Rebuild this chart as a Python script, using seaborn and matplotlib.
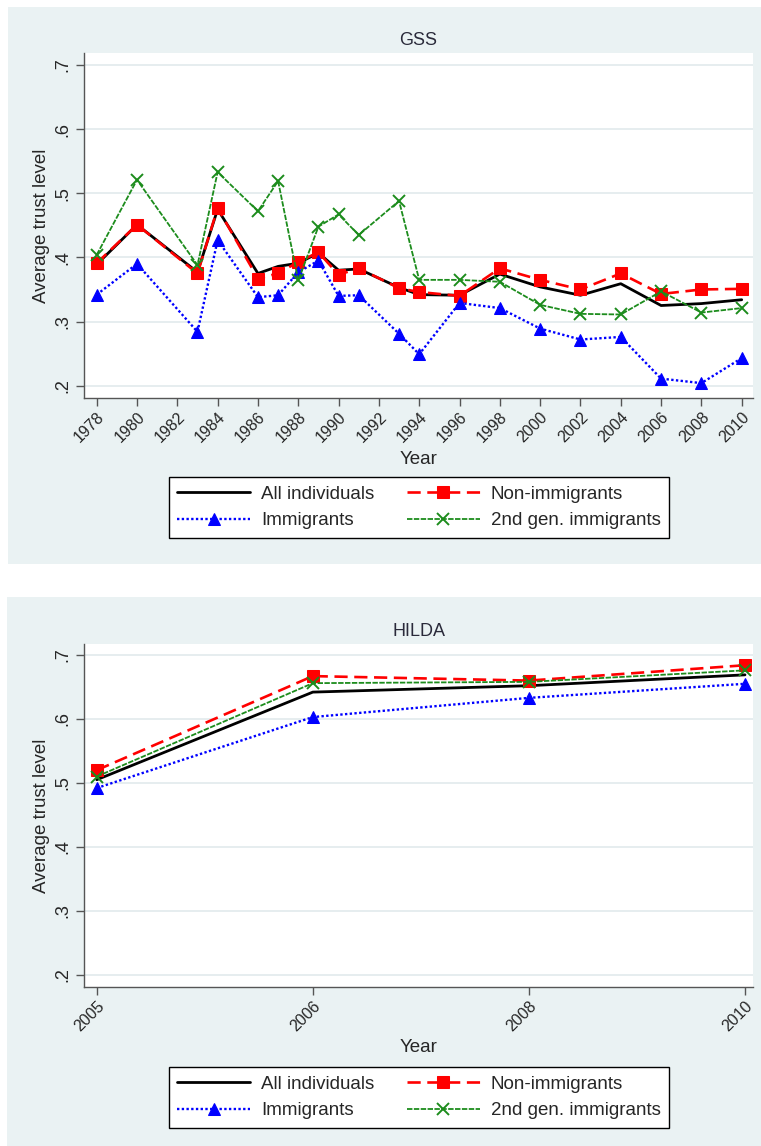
import numpy as np
import pandas as pd
import seaborn as sns
import matplotlib.pyplot as plt
from matplotlib.patches import Rectangle
from matplotlib.ticker import FuncFormatter

# GSS panel
gss_years = [1978, 1980, 1983, 1984, 1986, 1987, 1988, 1989, 1990, 1991,
             1993, 1994, 1996, 1998, 2000, 2002, 2004, 2006, 2008, 2010]
gss_all = [0.389, 0.451, 0.377, 0.475, 0.375, 0.386, 0.391, 0.407, 0.380, 0.382,
           0.353, 0.342, 0.341, 0.374, 0.354, 0.341, 0.359, 0.325, 0.328, 0.334]
gss_non = [0.391, 0.451, 0.375, 0.477, 0.367, 0.375, 0.393, 0.408, 0.373, 0.383,
           0.352, 0.346, 0.340, 0.383, 0.365, 0.350, 0.375, 0.343, 0.350, 0.351]
gss_imm = [0.342, 0.390, 0.284, 0.427, 0.338, 0.341, 0.377, 0.395, 0.340, 0.341,
           0.281, 0.249, 0.329, 0.321, 0.289, 0.272, 0.276, 0.211, 0.204, 0.243]
gss_2nd = [0.404, 0.521, 0.388, 0.533, 0.472, 0.519, 0.364, 0.448, 0.467, 0.435,
           0.488, 0.365, 0.365, 0.362, 0.326, 0.312, 0.311, 0.347, 0.314, 0.321]
gss_ticks = list(range(1978, 2011, 2))

# HILDA panel
hilda_years = ["2005", "2006", "2008", "2010"]
hilda_all = [0.505, 0.642, 0.652, 0.669]
hilda_non = [0.520, 0.667, 0.660, 0.684]
hilda_imm = [0.492, 0.603, 0.633, 0.655]
hilda_2nd = [0.510, 0.656, 0.658, 0.676]

groups = ["All individuals", "Non-immigrants", "Immigrants", "2nd gen. immigrants"]

styles = {
    "All individuals": dict(color="black", linestyle="-", linewidth=2.0, marker=None),
    "Non-immigrants": dict(color="#ff0000", linestyle=(0, (5, 2.5)), linewidth=1.9,
                           marker="s", markersize=8, markeredgecolor="#ff0000"),
    "Immigrants": dict(color="#0000ff", linestyle=(0, (1, 1)), linewidth=1.7,
                       marker="^", markersize=8.5, markeredgecolor="#0000ff"),
    "2nd gen. immigrants": dict(color="#1c8c1c", linestyle=(0, (3, 0.8)), linewidth=1.3,
                                marker="x", markersize=8.5, markeredgewidth=1.4,
                                markeredgecolor="#1c8c1c"),
}

sns.set_style("ticks")
plt.rcParams["font.family"] = ["Liberation Sans", "DejaVu Sans"]

W, H = 761, 1146
fig = plt.figure(figsize=(W / 100, H / 100), dpi=100)
fig.patch.set_facecolor("white")

bg = "#eaf2f3"
fig.patches.append(Rectangle((8 / W, 1 - 564 / H), 753 / W, 557 / H,
                             transform=fig.transFigure, facecolor=bg, edgecolor="none", zorder=-5))
fig.patches.append(Rectangle((7 / W, 0), 754 / W, 1 - 597 / H,
                             transform=fig.transFigure, facecolor=bg, edgecolor="none", zorder=-5))

left, right = 84 / W, 753 / W
ax1 = fig.add_axes([left, 1 - 398 / H, right - left, (398 - 53) / H])
ax2 = fig.add_axes([left, 1 - 987 / H, right - left, (987 - 644) / H])

fmt = FuncFormatter(lambda v, p: ("%.1f" % v).lstrip("0"))
legend_y = {"GSS": 507.5, "HILDA": 1097.5}


def draw(ax, x, vals, title):
    for g in groups:
        sns.lineplot(x=x, y=vals[g], ax=ax, label=g, errorbar=None, **styles[g])
    ax.set_facecolor("white")
    ax.set_title(title, fontsize=13, color="#2a2a3a", pad=6)
    ax.set_yticks([0.2, 0.3, 0.4, 0.5, 0.6, 0.7])
    ax.yaxis.set_major_formatter(fmt)
    ax.yaxis.grid(True, color="#e4ecee", linewidth=1.3)
    ax.set_axisbelow(True)
    for s in ["top", "right"]:
        ax.spines[s].set_visible(False)
    for s in ["left", "bottom"]:
        ax.spines[s].set_color("#555555")
        ax.spines[s].set_linewidth(1.0)
    ax.tick_params(axis="both", direction="out", length=6, width=1, color="#555555")
    ax.tick_params(axis="y", labelsize=13, pad=3)
    ax.tick_params(axis="x", labelsize=11.5, pad=2)
    plt.setp(ax.get_yticklabels(), rotation=90, va="center")
    ax.set_ylabel("Average trust level", fontsize=13.5, labelpad=3)
    ax.set_xlabel("Year", fontsize=13.5, labelpad=4)

    h, l = ax.get_legend_handles_labels()
    order = [0, 2, 1, 3]
    leg = ax.legend([h[i] for i in order], [l[i] for i in order], ncol=2, fontsize=13.5,
                    handlelength=3.9, handletextpad=0.6, columnspacing=1.7,
                    labelspacing=0.5, borderpad=0.45, borderaxespad=0, numpoints=1,
                    frameon=True, fancybox=False, edgecolor="black", facecolor="white",
                    framealpha=1, loc="center", bbox_transform=fig.transFigure,
                    bbox_to_anchor=(419 / W, 1 - legend_y[title] / H))
    leg.get_frame().set_linewidth(1.0)


draw(ax1, gss_years, {"All individuals": gss_all, "Non-immigrants": gss_non,
                      "Immigrants": gss_imm, "2nd gen. immigrants": gss_2nd}, "GSS")
ax1.set_xlim(1977.37, 2010.56)
ax1.set_ylim(0.1808, 0.7187)
ax1.set_xticks(gss_ticks)
ax1.set_xticklabels([str(t) for t in gss_ticks], rotation=45, ha="right",
                    rotation_mode="anchor")

pos = list(range(len(hilda_years)))
draw(ax2, pos, {"All individuals": hilda_all, "Non-immigrants": hilda_non,
                "Immigrants": hilda_imm, "2nd gen. immigrants": hilda_2nd}, "HILDA")
ax2.set_xlim(-0.059, 3.037)
ax2.set_ylim(0.181, 0.7172)
ax2.set_xticks(pos)
ax2.set_xticklabels(hilda_years, rotation=45, ha="right", rotation_mode="anchor")

fig.savefig("out.png", dpi=100, facecolor=fig.get_facecolor())
